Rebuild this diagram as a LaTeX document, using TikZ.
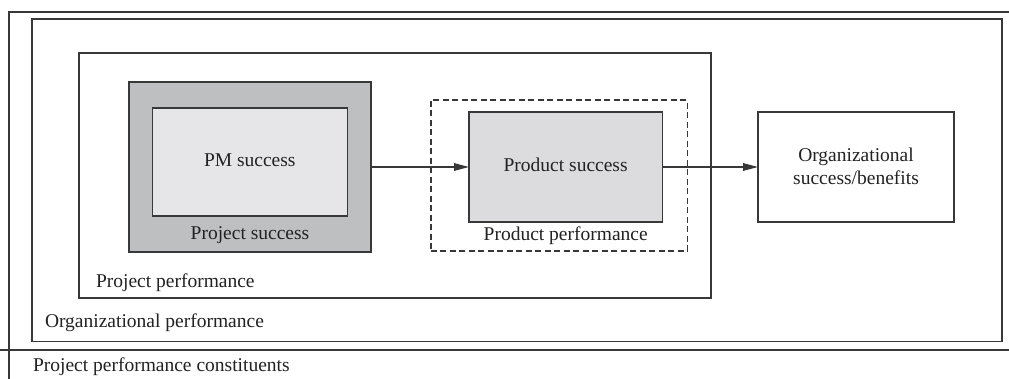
\documentclass[tikz,border=0pt]{standalone}
\usepackage{fontspec}
\setmainfont{Liberation Serif}
\usetikzlibrary{arrows.meta}
\definecolor{ink}{HTML}{383838}
\definecolor{txt}{HTML}{222222}
\definecolor{darkfill}{HTML}{BEBFC1}
\definecolor{lightfill}{HTML}{E6E6E8}
\definecolor{midfill}{HTML}{DCDCDE}
\begin{document}
\begin{tikzpicture}[x=1pt,y=-1pt,
  every node/.style={font=\fontsize{19.5}{23}\selectfont, text=txt},
  frame/.style={draw=ink, line width=1.6pt, inner sep=0pt, outer sep=0pt, anchor=north west},
  label/.style={inner sep=0pt, outer sep=0pt},
  flow/.style={draw=ink, line width=1.5pt, -{Triangle[length=15pt,width=7.5pt]}}]
\useasboundingbox (0,0) rectangle (1009,379);

% outer frame and caption rule
\coordinate (tl) at (9,12);
\coordinate (tr) at (1009,12);
\coordinate (bl) at (9,379);
\coordinate (rl) at (0,350);
\coordinate (rr) at (1009,350);
\draw[ink, line width=1.6pt] (tr) -- (tl) -- (bl);
\draw[ink, line width=1.6pt] (rl) -- (rr);

% nested performance frames
\node[frame, minimum width=970pt, minimum height=322pt] (orgperf) at (31.7,19.3) {};
\node[frame, minimum width=632pt, minimum height=245pt] (projperf) at (79,53.3) {};

% project success block
\node[frame, fill=darkfill, minimum width=241.7pt, minimum height=170pt] (projsucc) at (129,82) {};
\node[frame, fill=lightfill, minimum width=195pt, minimum height=107.7pt] (pmsucc) at (152.3,108.3) {};

% product block
\node[frame, dashed, dash pattern=on 6pt off 3.5pt, minimum width=256.6pt, minimum height=151pt] (prodperf) at (430.7,100) {};
\node[frame, fill=midfill, minimum width=193.3pt, minimum height=110pt] (prodsucc) at (469,112) {};

% organizational result
\node[frame, minimum width=196pt, minimum height=110pt] (orgsucc) at (758,112) {};

% texts
\node[label] (tpm) at ([yshift=1.5pt]pmsucc.center) {PM success};
\node[label] (tprojs) at (250,235) {Project success};
\node[label] (tprods) at ([yshift=2.5pt]prodsucc.center) {Product success};
\node[label] (tprodp) at (565.7,236) {Product performance};
\node[label, align=center] (torgs) at ([yshift=1pt]orgsucc.center) {Organizational\\success/benefits};
\node[label, anchor=west] (tprojp) at (96,283) {Project performance};
\node[label, anchor=west] (torgp) at (45,322.7) {Organizational performance};
\node[label, anchor=west] (tcons) at (33,366.5) {Project performance constituents};

% flow arrows
\draw[flow] (projsucc.east) -- (projsucc.east -| prodsucc.west);
\draw[flow] (prodsucc.east) -- (prodsucc.east -| orgsucc.west);
\end{tikzpicture}
\end{document}
